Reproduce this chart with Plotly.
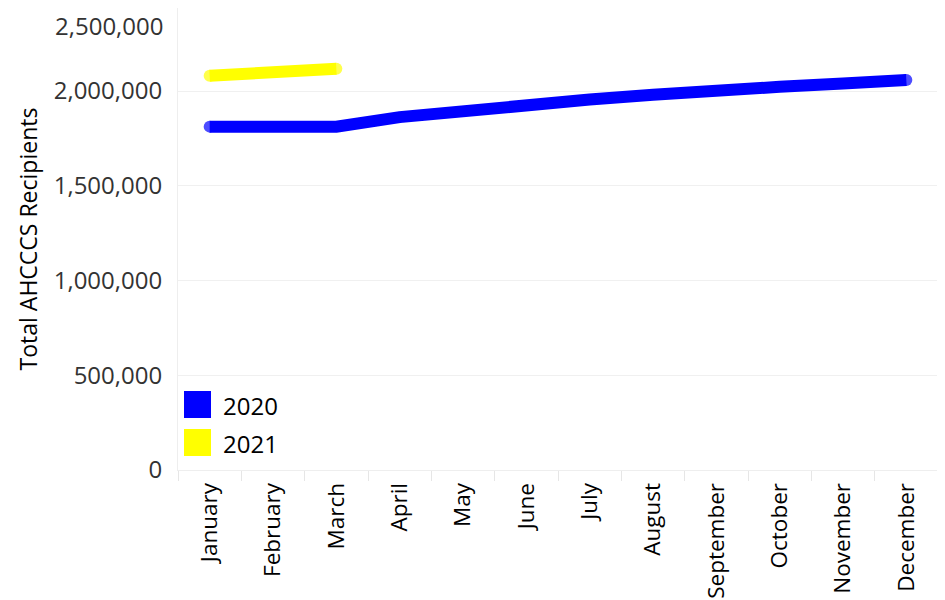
import plotly.graph_objects as go

months = ["January", "February", "March", "April", "May", "June", "July",
          "August", "September", "October", "November", "December"]
series_names = ["2020", "2021"]
values_2020 = [1812000, 1808000, 1812000, 1862000, 1895000, 1932000, 1955000,
               1980000, 2008000, 2022000, 2040000, 2058000]
values_2021 = [2081000, 2100000, 2117000]
colors = ["#0000ff", "#ffff00"]
y_tick_vals = [0, 500000, 1000000, 1500000, 2000000]
y_tick_text = ["0", "500,000", "1,000,000", "1,500,000", "2,000,000"]
top_label = "2,500,000"

FONT = "Open Sans"
PLOT_W, PLOT_H = 760, 462

fig = go.Figure()
for name, vals, col in zip(series_names, [values_2020, values_2021], colors):
    n = len(vals)
    sizes = [12 if i in (0, n - 1) else 0 for i in range(n)]
    fig.add_trace(go.Scatter(
        x=months[:n], y=vals, name=name, mode="lines+markers",
        line=dict(color=col, width=12), marker=dict(color=col, size=sizes, line=dict(width=0)),
        showlegend=False, hoverinfo="x+y+name"))

# legend drawn as swatches + text
for i, (name, col) in enumerate(zip(series_names, colors)):
    y0 = 383 + i * 38
    fig.add_shape(type="rect", xref="paper", yref="paper",
                  x0=6 / PLOT_W, x1=33 / PLOT_W,
                  y0=1 - (y0 + 27) / PLOT_H, y1=1 - y0 / PLOT_H,
                  fillcolor=col, line=dict(width=0), layer="above")
    fig.add_annotation(text=name, xref="paper", yref="paper",
                       x=43 / PLOT_W, y=1 - (y0 + 14) / PLOT_H,
                       xanchor="left", yanchor="middle", showarrow=False,
                       font=dict(family=FONT, size=24, color="#000000"))

fig.add_annotation(text=top_label, xref="paper", yref="paper", x=0, y=1,
                   xanchor="right", yanchor="top", xshift=-14, yshift=0,
                   borderpad=0, showarrow=False,
                   font=dict(family=FONT, size=24, color="#333333"))

fig.update_layout(
    width=945, height=600,
    margin=dict(l=170, r=15, t=0, b=138),
    paper_bgcolor="white", plot_bgcolor="white",
    font=dict(family=FONT, size=22, color="#333333"),
    showlegend=False,
    xaxis=dict(type="category", categoryorder="array", categoryarray=months,
               range=[-0.5, 11.5], tickangle=-90, tickson="boundaries",
               ticks="outside", ticklen=10, tickcolor="#e6e6e6",
               ticklabelstandoff=3,
               showgrid=False, showline=True, linecolor="#eeeeee", linewidth=1,
               tickfont=dict(family=FONT, size=22.5, color="#000000")),
    yaxis=dict(range=[0, 2438000], tickvals=y_tick_vals, ticktext=y_tick_text,
               showgrid=True, gridcolor="#f0f0f0", gridwidth=1,
               zeroline=False, showline=True, linecolor="#eeeeee",
               ticks="", ticklabelstandoff=10,
               tickfont=dict(family=FONT, size=24, color="#333333"),
               title=dict(text="Total AHCCCS Recipients", standoff=9,
                          font=dict(family=FONT, size=23, color="#000000"))),
)

fig.write_html("out.html")
